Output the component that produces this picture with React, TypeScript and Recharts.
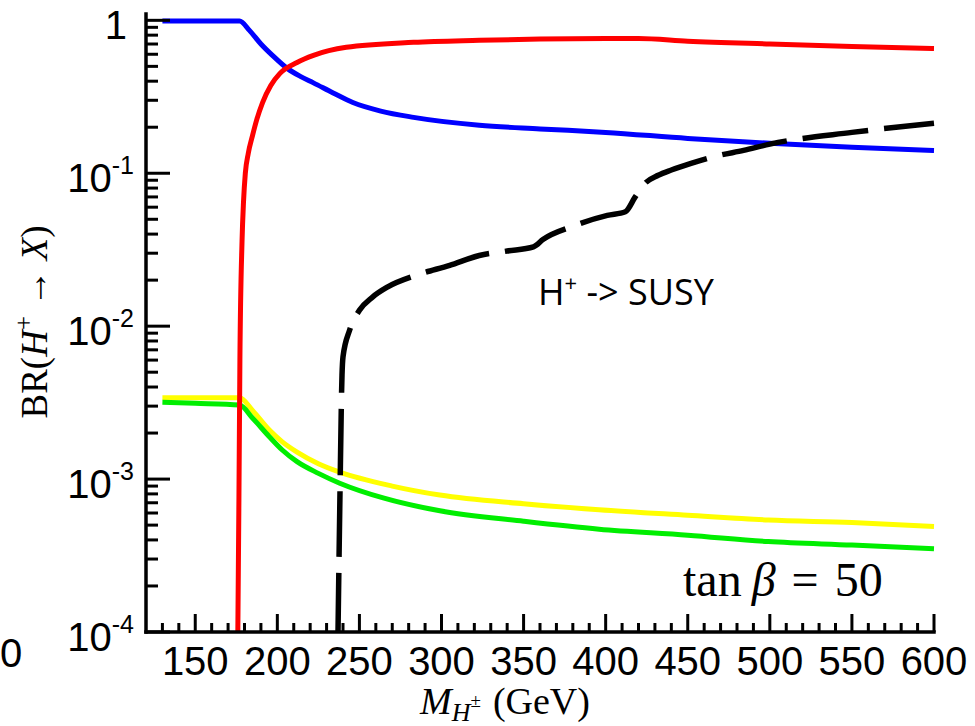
import React from 'react';
import { LineChart, Line, XAxis, YAxis } from 'recharts';

// Branching ratios of the charged Higgs vs its mass, [M (GeV), BR]
const tauNu: [number, number][] = [
  [130, 0.99], [150, 0.99], [170, 0.99], [177, 0.99], [183, 0.86], [190, 0.7],
  [197, 0.59], [206, 0.485], [214, 0.43], [222, 0.39], [234, 0.335], [246, 0.29],
  [263, 0.255], [283, 0.232], [323, 0.206], [360, 0.195], [400, 0.185], [450, 0.169],
  [500, 0.157], [550, 0.148], [600, 0.141],
];
const topBottom: [number, number][] = [
  [175.9, 0.00009], [176.6, 0.00073], [177.2, 0.006], [178.5, 0.036], [179.4, 0.065],
  [180.5, 0.1], [182.3, 0.135], [184.8, 0.175], [187.5, 0.225], [191, 0.29],
  [196, 0.375], [201.6, 0.45], [212, 0.53], [222, 0.59], [242, 0.666], [283, 0.718],
  [323, 0.74], [360, 0.755], [400, 0.76], [420, 0.76], [450, 0.73], [500, 0.7],
  [550, 0.675], [600, 0.655],
];
const muNu: [number, number][] = [
  [130, 0.0034], [177, 0.0034], [185, 0.0028], [195, 0.0021], [203, 0.00175],
  [212, 0.0015], [225, 0.00126], [238, 0.00111], [270, 0.0009], [299, 0.000786],
  [350, 0.00069], [396, 0.00063], [450, 0.00058], [499, 0.00054], [550, 0.00052],
  [600, 0.00049],
];
const charmStrange: [number, number][] = [
  [130, 0.00318], [150, 0.00313], [177, 0.00305], [185, 0.0025], [195, 0.0019],
  [203, 0.00155], [212, 0.0013], [225, 0.00109], [238, 0.00094], [265, 0.00075],
  [299, 0.00062], [350, 0.00053], [396, 0.00047], [450, 0.00043], [499, 0.00039],
  [550, 0.00037], [600, 0.00035],
];
const susy: [number, number][] = [
  [236.9, 0.00009], [238.1, 0.00073], [239.4, 0.0048], [240, 0.0063], [244, 0.0094],
  [250, 0.0127], [258, 0.0155], [267, 0.018], [285, 0.0216], [305, 0.025], [323, 0.029],
  [340, 0.031], [356, 0.033], [362, 0.037], [380, 0.045], [401, 0.053], [412, 0.056],
  [418, 0.07], [424, 0.086], [432, 0.097], [440, 0.105], [452, 0.116], [468, 0.13],
  [484, 0.141], [500, 0.155], [550, 0.185], [600, 0.212],
];

const massLabels = [150, 200, 250, 300, 350, 400, 450, 500, 550, 600];
const decades = [1e-4, 1e-3, 1e-2, 1e-1, 1];

const massTicks: number[] = [];
for (let m = 130; m <= 600; m += 10) massTicks.push(m);
const brTicks: number[] = [];
decades.slice(0, 4).forEach((d) => {
  for (let k = 1; k <= 9; k++) brTicks.push(d * k);
});
brTicks.push(1);

const toRows = (pts: [number, number][]) => pts.map(([m, br]) => ({ m, br }));

const SANS = '"Liberation Sans", Arial, Helvetica, sans-serif';
const SERIF = '"Liberation Serif", "Times New Roman", serif';

const isMajorMass = (v: number) => massLabels.includes(v);
const isDecade = (v: number) => decades.some((d) => Math.abs(v / d - 1) < 1e-6);

const BottomTick = (props: any) => {
  const { x, y, payload } = props;
  const major = isMajorMass(payload.value);
  return (
    <g>
      <line x1={x} y1={y} x2={x} y2={y - (major ? 18 : 9)} stroke="#000" strokeWidth={3} />
      {major && (
        <text x={x} y={y + 43} textAnchor="middle" fontSize={40} fontFamily={SANS} fill="#000">
          {payload.value}
        </text>
      )}
    </g>
  );
};

const TopTick = (props: any) => {
  const { x, y, payload } = props;
  const major = isMajorMass(payload.value);
  return <line x1={x} y1={y} x2={x} y2={y + (major ? 18 : 9)} stroke="#000" strokeWidth={3} />;
};

const LeftTick = (props: any) => {
  const { x, y, payload } = props;
  const v = payload.value;
  const major = isDecade(v);
  const exp = Math.round(Math.log10(v));
  return (
    <g>
      <line x1={x} y1={y} x2={x + (major ? 24 : 12)} y2={y} stroke="#000" strokeWidth={3} />
      {major && exp === 0 && (
        <text x={x - 19} y={y + 19} textAnchor="end" fontSize={40} fontFamily={SANS} fill="#000">
          1
        </text>
      )}
      {major && exp !== 0 && (
        <text x={x - 12} y={y + 19} textAnchor="end" fontSize={40} fontFamily={SANS} fill="#000">
          <tspan>10</tspan>
          <tspan fontSize={25} dy={-18}>{String(exp)}</tspan>
        </text>
      )}
    </g>
  );
};

const RightTick = (props: any) => {
  const { x, y, payload } = props;
  const major = isDecade(payload.value);
  return <line x1={x} y1={y} x2={x - (major ? 24 : 12)} y2={y} stroke="#000" strokeWidth={3} />;
};

const frame = { stroke: '#000', strokeWidth: 3.5, strokeLinecap: 'square' as const };

export default function App() {
  return (
    <div style={{ position: 'absolute', left: 0, top: 0, width: 975, height: 726, background: '#fff' }}>
      <LineChart width={975} height={726} margin={{ top: 14, right: 41, bottom: 0, left: 0 }}>
        <XAxis
          xAxisId="bottom"
          dataKey="m"
          type="number"
          domain={[120, 600]}
          ticks={massTicks}
          interval={0}
          height={94}
          tickSize={0}
          tickMargin={0}
          tickLine={false}
          axisLine={frame}
          tick={<BottomTick />}
        />
        <XAxis
          xAxisId="top"
          orientation="top"
          dataKey="m"
          type="number"
          domain={[120, 600]}
          ticks={massTicks}
          interval={0}
          height={0}
          tickSize={0}
          tickMargin={0}
          tickLine={false}
          axisLine={frame}
          tick={<TopTick />}
        />
        <YAxis
          yAxisId="left"
          type="number"
          scale="log"
          domain={[1e-4, 1.1]}
          allowDataOverflow
          ticks={brTicks}
          interval={0}
          width={146}
          tickSize={0}
          tickMargin={0}
          tickLine={false}
          axisLine={frame}
          tick={<LeftTick />}
        />
        <YAxis
          yAxisId="right"
          orientation="right"
          type="number"
          scale="log"
          domain={[1e-4, 1.1]}
          allowDataOverflow
          ticks={brTicks}
          interval={0}
          width={0}
          tickSize={0}
          tickMargin={0}
          tickLine={false}
          axisLine={frame}
          tick={<RightTick />}
        />

        <Line xAxisId="bottom" yAxisId="left" data={toRows(tauNu)} dataKey="br" type="monotone"
          stroke="#0000ff" strokeWidth={5} dot={false} activeDot={false} isAnimationActive={false} />
        <Line xAxisId="bottom" yAxisId="left" data={toRows(muNu)} dataKey="br" type="monotone"
          stroke="#ffff00" strokeWidth={5} dot={false} activeDot={false} isAnimationActive={false} />
        <Line xAxisId="bottom" yAxisId="left" data={toRows(charmStrange)} dataKey="br" type="monotone"
          stroke="#00ee00" strokeWidth={5} dot={false} activeDot={false} isAnimationActive={false} />
        <Line xAxisId="bottom" yAxisId="left" data={toRows(topBottom)} dataKey="br" type="monotone"
          stroke="#ff0000" strokeWidth={5} dot={false} activeDot={false} isAnimationActive={false} />
        <Line xAxisId="bottom" yAxisId="left" data={toRows(susy)} dataKey="br" type="monotone"
          stroke="#000000" strokeWidth={5.5} strokeDasharray="66 16" dot={false} activeDot={false}
          isAnimationActive={false} />

        <text x={538} y={305} fontSize={36} fontFamily='"Open Sans", "Noto Sans", sans-serif' fill="#000">
          <tspan>H</tspan>
          <tspan fontSize={22} dy={-14}>+</tspan>
          <tspan dy={14}> -&gt; SUSY</tspan>
        </text>

        <text x={683} y={596} fontSize={48} fontFamily={SERIF} fill="#000">
          <tspan>tan</tspan>
          <tspan fontStyle="italic" dx={10}>β</tspan>
          <tspan dx={16}>=</tspan>
          <tspan dx={16}>50</tspan>
        </text>

        <text x={420} y={714} fontSize={38} fontFamily={SERIF} fill="#000">
          <tspan fontStyle="italic">M</tspan>
          <tspan fontStyle="italic" fontSize={26} dy={7}>H</tspan>
          <tspan fontSize={19} dy={-14}>±</tspan>
          <tspan dy={7} dx={12}>(GeV)</tspan>
        </text>

        <text transform="translate(47, 322) rotate(-90)" textAnchor="middle" fontSize={37}
          fontFamily={SERIF} fill="#000">
          <tspan>BR(</tspan>
          <tspan fontStyle="italic">H</tspan>
          <tspan fontSize={25} dy={-15}>+</tspan>
          <tspan dy={15}> → </tspan>
          <tspan fontStyle="italic">X</tspan>
          <tspan>)</tspan>
        </text>

        <text x={0} y={667} fontSize={40} fontFamily={SANS} fill="#000">0</text>
      </LineChart>
    </div>
  );
}
